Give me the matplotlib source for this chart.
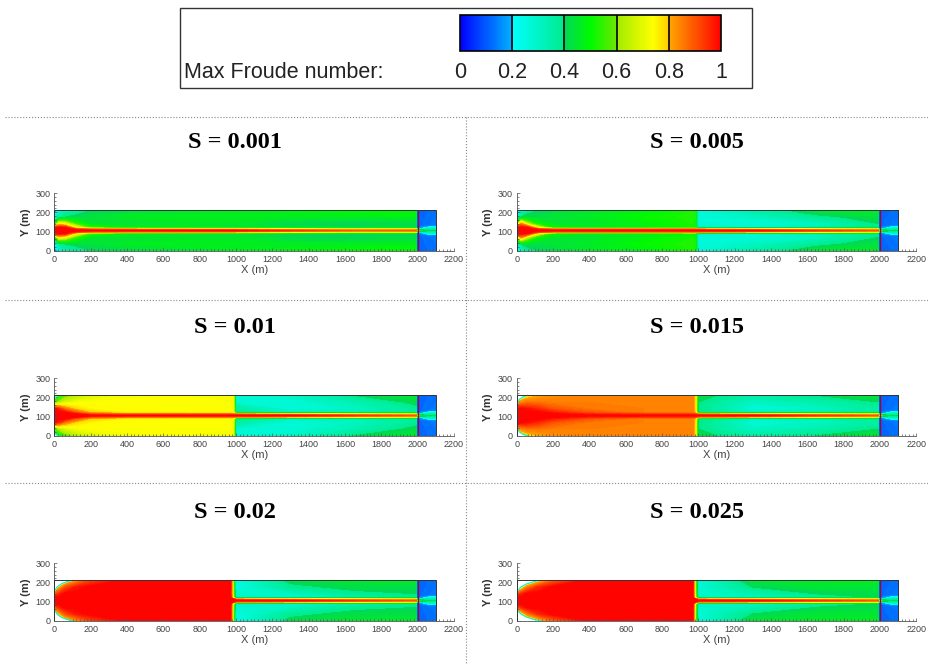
import numpy as np
import matplotlib
matplotlib.use("Agg")
import matplotlib.pyplot as plt
from matplotlib.colors import LinearSegmentedColormap, Normalize
from matplotlib.cm import ScalarMappable
from matplotlib.patches import Rectangle
from matplotlib.lines import Line2D
from matplotlib.ticker import MultipleLocator

plt.rcParams['font.family'] = ['Liberation Sans', 'DejaVu Sans']

# slopes of the six runs (row by row, left to right)
slopes = ["0.001", "0.005", "0.01", "0.015", "0.02", "0.025"]

# geometry (m)
channel_len = 2000
reservoir_end = 2100
channel_width = 210
centre = 105

# colour scale of the legend
cbar_ticks = [0, 0.2, 0.4, 0.6, 0.8, 1]
cbar_labels = ["0", "0.2", "0.4", "0.6", "0.8", "1"]

# channel grid: nodes along x and distance from the centre line
x_nodes = [0, 25, 60, 120, 200, 400, 700, 970, 985, 1000, 1300, 1650, 2000]
d_nodes = [0, 7, 15, 35, 70, 105]

# max Froude number at the nodes, one row per d_nodes entry
fr_0001 = [
    [1.0, 1.0, 1.0, 1.0, 1.0, 1.0, 1.0, 1.0, 1.0, 1.0, 0.95, 0.9, 0.9],
    [1.0, 1.0, 1.0, 0.95, 0.88, 0.85, 0.84, 0.83, 0.83, 0.83, 0.78, 0.72, 0.72],
    [1.0, 1.0, 1.0, 0.72, 0.55, 0.47, 0.46, 0.45, 0.45, 0.45, 0.42, 0.41, 0.42],
    [0.45, 0.75, 0.7, 0.55, 0.45, 0.44, 0.45, 0.45, 0.45, 0.45, 0.41, 0.4, 0.42],
    [0.28, 0.36, 0.4, 0.41, 0.43, 0.46, 0.47, 0.47, 0.47, 0.47, 0.46, 0.46, 0.47],
    [0.1, 0.25, 0.35, 0.38, 0.4, 0.42, 0.44, 0.46, 0.46, 0.46, 0.48, 0.5, 0.5],
]
fr_0005 = [
    [1.0, 1.0, 1.0, 1.0, 1.0, 1.0, 1.0, 1.0, 1.0, 1.0, 1.0, 0.95, 0.9],
    [1.0, 1.0, 1.0, 0.95, 0.88, 0.88, 0.88, 0.88, 0.88, 0.88, 0.84, 0.78, 0.72],
    [1.0, 1.0, 1.0, 0.7, 0.5, 0.46, 0.48, 0.5, 0.5, 0.3, 0.28, 0.33, 0.4],
    [0.6, 0.85, 0.65, 0.5, 0.45, 0.45, 0.48, 0.52, 0.5, 0.27, 0.27, 0.3, 0.4],
    [0.3, 0.4, 0.42, 0.42, 0.44, 0.46, 0.5, 0.53, 0.52, 0.27, 0.3, 0.38, 0.43],
    [0.1, 0.3, 0.38, 0.4, 0.42, 0.45, 0.48, 0.52, 0.5, 0.27, 0.35, 0.44, 0.46],
]
fr_001 = [
    [1.0, 1.0, 1.0, 1.0, 1.0, 1.0, 1.0, 1.0, 1.0, 1.0, 1.0, 0.95, 0.9],
    [1.0, 1.0, 1.0, 1.0, 0.92, 0.88, 0.88, 0.88, 0.88, 0.88, 0.84, 0.78, 0.72],
    [1.0, 1.0, 1.0, 0.9, 0.8, 0.75, 0.74, 0.73, 0.72, 0.38, 0.3, 0.32, 0.38],
    [1.0, 0.95, 0.85, 0.78, 0.75, 0.74, 0.74, 0.73, 0.72, 0.36, 0.27, 0.3, 0.38],
    [0.55, 0.62, 0.68, 0.72, 0.73, 0.74, 0.74, 0.73, 0.72, 0.28, 0.27, 0.33, 0.42],
    [0.42, 0.5, 0.56, 0.62, 0.68, 0.72, 0.73, 0.73, 0.72, 0.27, 0.3, 0.4, 0.45],
]
fr_0015 = [
    [1.0, 1.0, 1.0, 1.0, 1.0, 1.0, 1.0, 1.0, 1.0, 1.0, 1.0, 0.95, 0.9],
    [1.0, 1.0, 1.0, 1.0, 1.0, 0.96, 0.94, 0.94, 0.92, 0.88, 0.84, 0.78, 0.72],
    [1.0, 1.0, 1.0, 1.0, 0.97, 0.9, 0.85, 0.85, 0.78, 0.4, 0.3, 0.33, 0.38],
    [1.0, 1.0, 0.98, 0.95, 0.9, 0.86, 0.85, 0.85, 0.76, 0.4, 0.27, 0.3, 0.36],
    [0.8, 0.83, 0.86, 0.86, 0.85, 0.85, 0.85, 0.85, 0.75, 0.4, 0.3, 0.34, 0.4],
    [0.65, 0.72, 0.76, 0.8, 0.83, 0.85, 0.85, 0.85, 0.75, 0.42, 0.36, 0.4, 0.45],
]
fr_002 = [
    [1.0, 1.0, 1.0, 1.0, 1.0, 1.0, 1.0, 1.0, 1.0, 1.0, 1.0, 0.95, 0.9],
    [1.0, 1.0, 1.0, 1.0, 1.0, 1.0, 1.0, 1.0, 1.0, 0.88, 0.84, 0.78, 0.72],
    [1.0, 1.0, 1.0, 1.0, 1.0, 1.0, 1.0, 1.0, 0.65, 0.3, 0.28, 0.33, 0.38],
    [0.88, 0.95, 1.0, 1.0, 1.0, 1.0, 1.0, 1.0, 0.62, 0.28, 0.3, 0.38, 0.4],
    [0.7, 0.78, 0.9, 0.97, 1.0, 1.0, 1.0, 1.0, 0.6, 0.25, 0.38, 0.42, 0.42],
    [0.5, 0.6, 0.7, 0.82, 0.92, 1.0, 1.0, 1.0, 0.6, 0.25, 0.42, 0.45, 0.46],
]
fr_0025 = [
    [1.0, 1.0, 1.0, 1.0, 1.0, 1.0, 1.0, 1.0, 1.0, 1.0, 1.0, 0.95, 0.9],
    [1.0, 1.0, 1.0, 1.0, 1.0, 1.0, 1.0, 1.0, 1.0, 0.88, 0.84, 0.78, 0.72],
    [1.0, 1.0, 1.0, 1.0, 1.0, 1.0, 1.0, 1.0, 0.65, 0.3, 0.3, 0.35, 0.4],
    [0.88, 0.95, 1.0, 1.0, 1.0, 1.0, 1.0, 1.0, 0.62, 0.28, 0.33, 0.4, 0.42],
    [0.65, 0.72, 0.85, 0.95, 1.0, 1.0, 1.0, 1.0, 0.6, 0.27, 0.4, 0.44, 0.44],
    [0.45, 0.55, 0.65, 0.75, 0.88, 1.0, 1.0, 1.0, 0.6, 0.27, 0.44, 0.46, 0.47],
]
fields = [fr_0001, fr_0005, fr_001, fr_0015, fr_002, fr_0025]

# dry corners at the inlet: x and half width of the wetted part
dry_zones = [
    None,
    None,
    ([0, 10, 20], [90, 100, 105]),
    ([0, 15, 35, 60], [65, 85, 98, 105]),
    ([0, 15, 40, 70, 100], [50, 72, 88, 99, 105]),
    ([0, 20, 50, 100, 130], [45, 68, 85, 100, 105]),
]

# downstream reservoir (same in every run)
res_x = [2000, 2020, 2060, 2100]
res_d = [0, 5, 12, 25, 105]
res_fr = [
    [0.7, 0.45, 0.42, 0.42],
    [0.35, 0.38, 0.36, 0.34],
    [0.12, 0.18, 0.28, 0.3],
    [0.12, 0.12, 0.13, 0.14],
    [0.12, 0.12, 0.12, 0.12],
]

# colour map with the 5 bands of the legend
cmap = LinearSegmentedColormap.from_list("froude", [
    (0.0, "#0000ff"), (0.2, "#00b4ff"),
    (0.2, "#00ffff"), (0.4, "#00eb8c"),
    (0.4, "#00d75a"), (0.5, "#00fa00"), (0.6, "#6ee600"),
    (0.6, "#a0eb00"), (0.74, "#ffff00"), (0.8, "#ffcd00"),
    (0.8, "#ffaa00"), (1.0, "#ff0000"),
])
norm = Normalize(0, 1)
levels = np.linspace(0, 1, 101)

W, H = 929, 664
fig = plt.figure(figsize=(W / 100, H / 100), dpi=100)


def fx(px):
    return px / W


def fy(px):
    return 1 - px / H


def mirror(d, z):
    d = np.array(d)
    z = np.array(z)
    y = np.concatenate([centre - d[::-1], centre + d[1:]])
    return y, np.vstack([z[::-1], z[1:]])


def draw_panel(ax, field, dry):
    y, z = mirror(d_nodes, field)
    ax.contourf(x_nodes, y, z, levels=levels, cmap=cmap, norm=norm, zorder=1)
    ry, rz = mirror(res_d, res_fr)
    ax.contourf(res_x, ry, rz, levels=levels, cmap=cmap, norm=norm, zorder=1)
    if dry is not None:
        dx, dd = np.array(dry[0]), np.array(dry[1])
        ax.fill_between(dx, centre + dd, channel_width, color="white", lw=0, zorder=2)
        ax.fill_between(dx, 0, centre - dd, color="white", lw=0, zorder=2)
        ax.plot(dx, centre + dd, color=cmap(0.3), lw=0.8, zorder=3)
        ax.plot(dx, centre - dd, color=cmap(0.3), lw=0.8, zorder=3)
    ax.vlines(channel_len, 0, channel_width, color="#a0003c", lw=1.0, zorder=4)
    ax.add_patch(Rectangle((0, 0), reservoir_end, channel_width, fill=False,
                           ec="#333333", lw=0.7, zorder=5))
    ax.set_xlim(0, 2200)
    ax.set_ylim(0, 300)
    ax.xaxis.set_major_locator(MultipleLocator(200))
    ax.yaxis.set_major_locator(MultipleLocator(100))
    ax.xaxis.set_minor_locator(MultipleLocator(20))
    ax.yaxis.set_minor_locator(MultipleLocator(20))
    ax.tick_params(which="both", direction="in", colors="#555555", width=0.5,
                   labelsize=6.5, labelcolor="#444444", pad=3)
    ax.tick_params(which="major", length=2.2)
    ax.tick_params(which="minor", length=1.2)
    for side in ["top", "right"]:
        ax.spines[side].set_visible(False)
    for side in ["left", "bottom"]:
        ax.spines[side].set_color("#555555")
        ax.spines[side].set_linewidth(0.6)
    ax.set_xlabel("X (m)", fontsize=8, color="#444444", labelpad=1)
    ax.set_ylabel("Y (m)", fontsize=8, color="#333333", fontweight="bold", labelpad=3)


# panels
col_left = [54.5, 516.7]
row_zero = [250.7, 435.7, 620.7]
title_x = [235, 697]
ax_w = 399.5
ax_h = 57.6
for i, (s, field, dry) in enumerate(zip(slopes, fields, dry_zones)):
    r, c = divmod(i, 2)
    ax = fig.add_axes([fx(col_left[c]), fy(row_zero[r]), ax_w / W, ax_h / H])
    draw_panel(ax, field, dry)
    fig.text(fx(title_x[c]), fy(row_zero[r] - 108.5), f"S = {s}", ha="center", va="center",
             fontfamily="Liberation Serif", fontweight="bold", fontsize=17.5)

# dotted separators
for yy in [117, 300, 483]:
    fig.add_artist(Line2D([fx(5), 1], [fy(yy), fy(yy)], transform=fig.transFigure,
                          ls=":", color="#888888", lw=0.8))
fig.add_artist(Line2D([fx(466), fx(466)], [fy(117), 0], transform=fig.transFigure,
                      ls=":", color="#888888", lw=0.8))

# legend box with colour bar
fig.add_artist(Rectangle((fx(180), fy(88)), 572 / W, 80 / H, transform=fig.transFigure,
                         fill=False, ec="#333333", lw=1.0))
cax = fig.add_axes([fx(460), fy(51), 261 / W, 36 / H])
cb = fig.colorbar(ScalarMappable(norm=norm, cmap=cmap), cax=cax, orientation="horizontal")
cb.set_ticks([])
cb.outline.set_linewidth(1.2)
for v in cbar_ticks[1:-1]:
    cax.axvline(v, color="black", lw=1.2)
for v, lab in zip(cbar_ticks, cbar_labels):
    fig.text(fx(460 + v * 261), fy(73), lab, ha="center", va="center",
             fontsize=15.5, color="#222222")
fig.text(fx(184), fy(73), "Max Froude number:", ha="left", va="center",
         fontsize=15.5, color="#222222")

fig.savefig("out.png", dpi=100)
